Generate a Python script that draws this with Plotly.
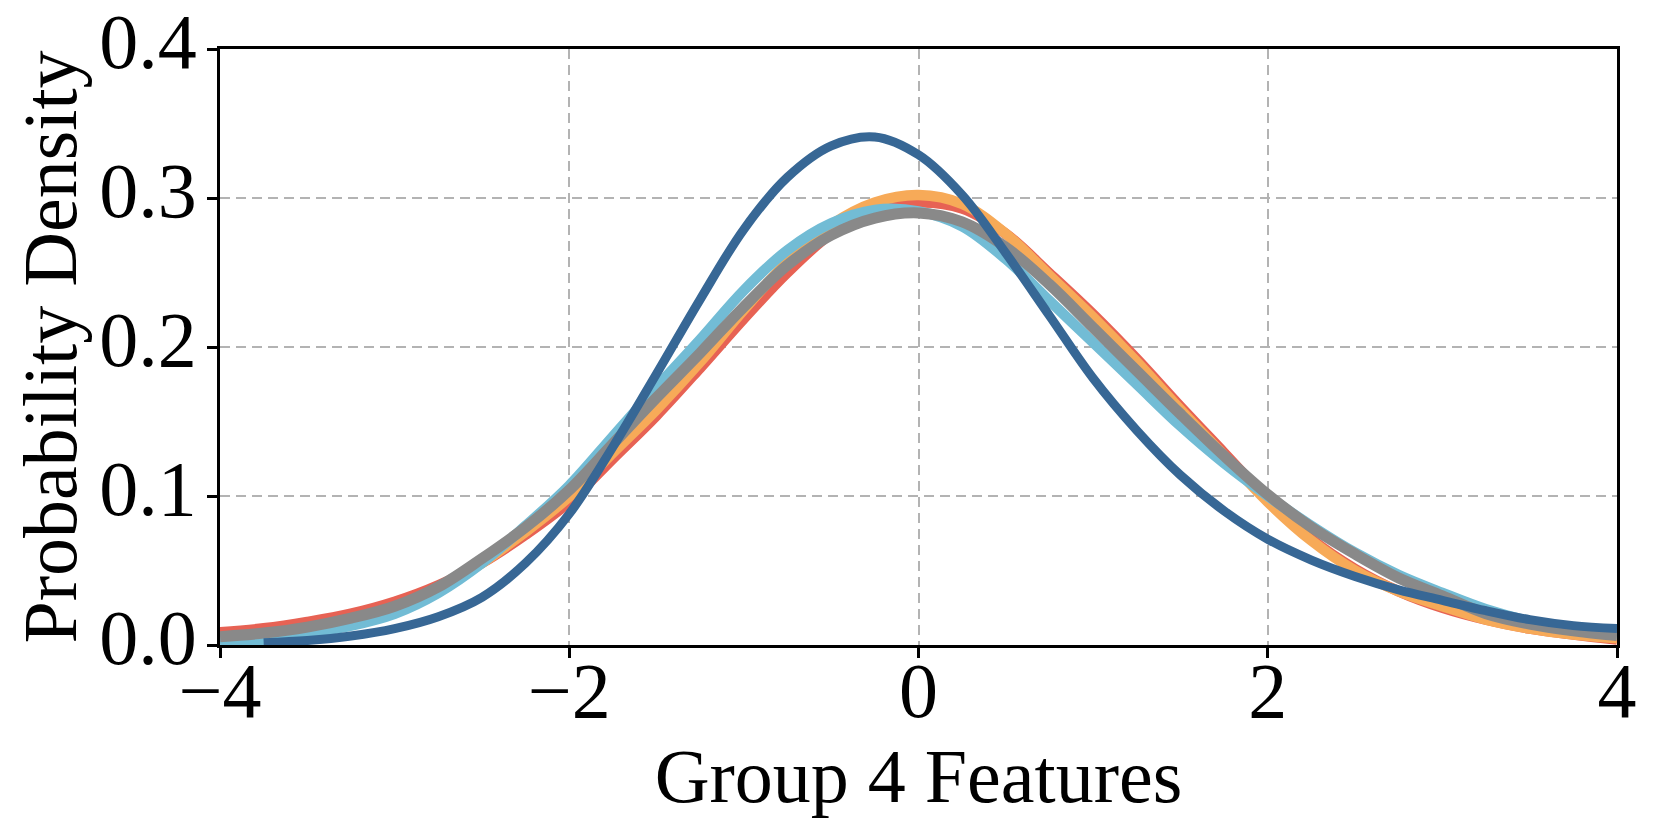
import plotly.graph_objects as go

x_grid = [-4.0, -3.75, -3.5, -3.25, -3.0, -2.75, -2.5, -2.25, -2.0, -1.75, -1.5, -1.25,
          -1.0, -0.75, -0.5, -0.25, 0.0, 0.25, 0.5, 0.75, 1.0, 1.25, 1.5, 1.75,
          2.0, 2.25, 2.5, 2.75, 3.0, 3.25, 3.5, 3.75, 4.0]

red_density = [0.0085, 0.0112, 0.0155, 0.021, 0.029, 0.040, 0.055, 0.074, 0.096, 0.125, 0.154, 0.186,
               0.219, 0.250, 0.276, 0.292, 0.297, 0.293, 0.276, 0.2495, 0.222, 0.192, 0.160, 0.129,
               0.098, 0.071, 0.051, 0.036, 0.025, 0.017, 0.011, 0.007, 0.0036]

orange_density = [0.004, 0.007, 0.011, 0.017, 0.025, 0.037, 0.055, 0.076, 0.0996, 0.129, 0.158, 0.190,
                  0.225, 0.257, 0.282, 0.297, 0.302, 0.296, 0.276, 0.248, 0.220, 0.190, 0.158, 0.127,
                  0.096, 0.070, 0.050, 0.036, 0.026, 0.017, 0.011, 0.007, 0.0045]

light_blue_density = [0.0016, 0.0035, 0.0078, 0.013, 0.021, 0.035, 0.055, 0.080, 0.107, 0.140, 0.173, 0.205,
                      0.238, 0.265, 0.283, 0.292, 0.291, 0.281, 0.259, 0.231, 0.203, 0.175, 0.147, 0.122,
                      0.100, 0.080, 0.062, 0.047, 0.035, 0.024, 0.016, 0.011, 0.007]

gray_density = [0.0056, 0.008, 0.012, 0.018, 0.026, 0.039, 0.058, 0.079, 0.104, 0.135, 0.166, 0.196,
                0.227, 0.255, 0.275, 0.2865, 0.290, 0.284, 0.267, 0.242, 0.213, 0.184, 0.155, 0.127,
                0.101, 0.079, 0.061, 0.045, 0.033, 0.021, 0.014, 0.0095, 0.0063]

# dark blue curve starts a bit right of -4
dark_blue_x = x_grid[1:]
dark_blue_density = [0.0015, 0.003, 0.006, 0.011, 0.019, 0.032, 0.055, 0.088, 0.133, 0.182, 0.232,
                     0.279, 0.314, 0.335, 0.341, 0.329, 0.302, 0.263, 0.221, 0.179, 0.144, 0.114, 0.090,
                     0.071, 0.057, 0.046, 0.037, 0.030, 0.023, 0.017, 0.013, 0.011]

x_ticks = [-4, -2, 0, 2, 4]
y_ticks = [0.0, 0.1, 0.2, 0.3, 0.4]
y_tick_text = ["0.0", "0.1", "0.2", "0.3", "0.4"]

series = [
    (x_grid, red_density, "#e76254", 10.5),
    (x_grid, orange_density, "#f7aa58", 10.5),
    (x_grid, light_blue_density, "#72bcd5", 10.5),
    (x_grid, gray_density, "#898989", 11),
    (dark_blue_x, dark_blue_density, "#376795", 9),
]

fig = go.Figure()
for xs, ys, color, width in series:
    fig.add_trace(go.Scatter(
        x=xs, y=ys, mode="lines",
        line=dict(color=color, width=width, shape="spline", smoothing=1.0),
        showlegend=False,
    ))

font_family = "Liberation Serif, Times New Roman, serif"
axis_common = dict(
    showline=True, linecolor="black", linewidth=2.5, mirror=True,
    ticks="outside", ticklen=10, tickwidth=2.5, tickcolor="black",
    showgrid=True, gridcolor="#b3b3b3", gridwidth=2.2, griddash="10px,6px",
    zeroline=False, automargin=False, ticklabeloverflow="allow",
    tickfont=dict(family=font_family, size=78, color="black"),
)

fig.update_xaxes(
    range=[-4, 4], tickvals=x_ticks, ticklabelstandoff=-34,
    title=dict(text="Group 4 Features", font=dict(family=font_family, size=76, color="black"), standoff=15),
    **axis_common,
)
fig.update_yaxes(
    range=[0, 0.4], tickvals=y_ticks, ticktext=y_tick_text,
    ticklabelstandoff=-5, ticklabelshift=-8,
    title=dict(text="Probability Density", font=dict(family=font_family, size=76, color="black"), standoff=10),
    **axis_common,
)

# page body adds an 8px offset, margins account for it
fig.update_layout(
    width=1660, height=839,
    margin=dict(l=212, r=51, t=41, b=202),
    paper_bgcolor="white", plot_bgcolor="white",
)

fig.write_html("out.html")
